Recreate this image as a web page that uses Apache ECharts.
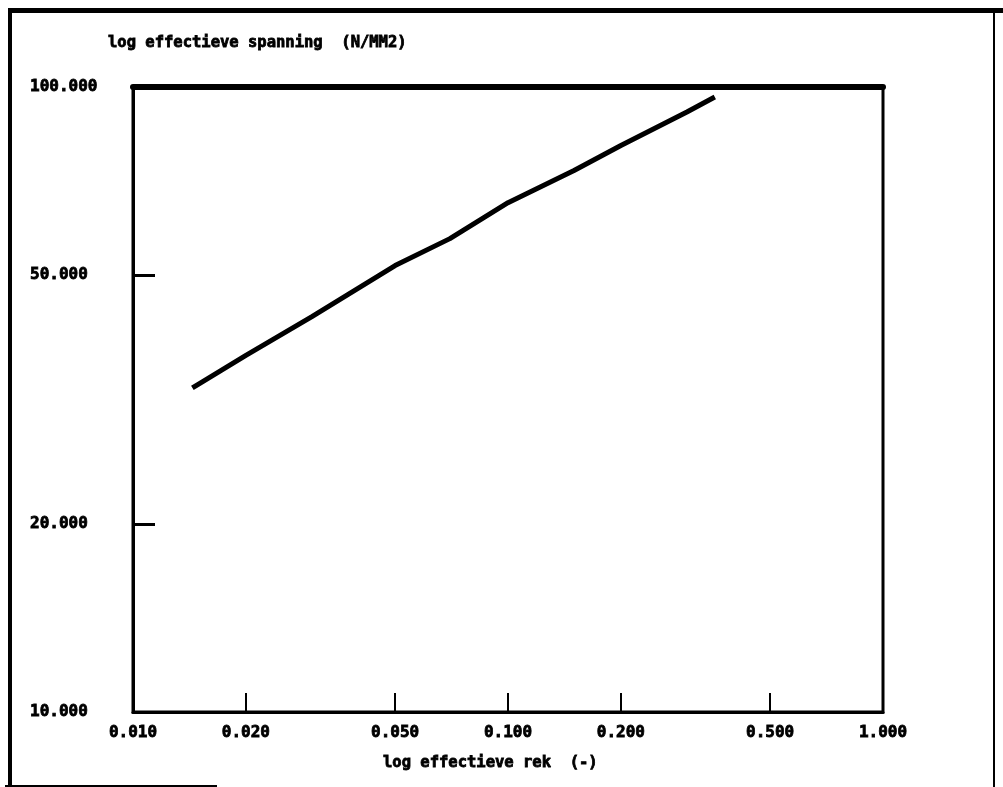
<!DOCTYPE html>
<html>
<head>
<meta charset="utf-8">
<script src="https://cdn.jsdelivr.net/npm/echarts@6/dist/echarts.min.js"></script>
<style>
  html, body { margin: 0; padding: 0; background: #fff; }
  #chart { width: 1003px; height: 787px; }
</style>
</head>
<body>
<div id="chart"></div>
<script>
// data
var rek = [0.0144, 0.015, 0.02, 0.03, 0.05, 0.07, 0.1, 0.15, 0.2, 0.3, 0.356];
var spanning = [33.0, 33.5, 37.2, 42.9, 51.8, 57.2, 65.3, 73.5, 80.6, 91.2, 96.4];

// axis labels and ticks
var xLabels = [0.01, 0.02, 0.05, 0.1, 0.2, 0.5, 1];
var xTicks = [0.02, 0.05, 0.1, 0.2, 0.5];
var yLabels = [10, 20, 50, 100];
var yTicks = [20, 50];

var fontName = '"DejaVu Sans Mono", monospace';

var chart = echarts.init(document.getElementById('chart'));

function fmt(v) {
  return Math.pow(10, v).toFixed(3);
}

// heavy "bitmap" look for all text
var heavy = {
  fontFamily: fontName, fontWeight: 'bold', color: '#000',
  textBorderColor: '#000', textBorderWidth: 0.8
};

var option = {
  backgroundColor: '#fff',
  animation: false,
  title: [
    {
      text: 'log effectieve spanning  (N/MM2)',
      left: 108, top: 35, padding: 0,
      textStyle: Object.assign({ fontSize: 15.5 }, heavy)
    },
    {
      text: 'log effectieve rek  (-)',
      left: 383, top: 755, padding: 0,
      textStyle: Object.assign({ fontSize: 15.5 }, heavy)
    }
  ],
  grid: {
    left: 133, right: 120, top: 87, bottom: 75,
    show: true, borderColor: '#000', borderWidth: 3
  },
  xAxis: [
    {
      // log axis for the data, drawn as the thick top edge
      type: 'log', logBase: 10, min: 0.01, max: 1, position: 'top',
      axisLine: { show: true, lineStyle: { color: '#000', width: 6 } },
      axisTick: { show: false }, axisLabel: { show: false }, splitLine: { show: false }
    },
    {
      type: 'value', min: -2, max: 0, position: 'bottom',
      axisLine: { show: true, lineStyle: { color: '#000', width: 3 } },
      axisTick: {
        show: true, inside: true, length: 19,
        lineStyle: { color: '#000', width: 2 },
        customValues: xTicks.map(Math.log10)
      },
      axisLabel: Object.assign({
        customValues: xLabels.map(Math.log10),
        formatter: fmt, margin: 13, fontSize: 16
      }, heavy),
      splitLine: { show: false }
    }
  ],
  yAxis: [
    {
      type: 'log', logBase: 10, min: 10, max: 100, position: 'right',
      axisLine: { show: true, lineStyle: { color: '#000', width: 2 } },
      axisTick: { show: false }, axisLabel: { show: false }, splitLine: { show: false }
    },
    {
      type: 'value', min: 1, max: 2, position: 'left',
      axisLine: { show: true, lineStyle: { color: '#000', width: 3 } },
      axisTick: {
        show: true, inside: true, length: 22,
        lineStyle: { color: '#000', width: 3 },
        customValues: yTicks.map(Math.log10)
      },
      axisLabel: Object.assign({
        customValues: yLabels.map(Math.log10),
        formatter: fmt, margin: 103, align: 'left', fontSize: 16
      }, heavy),
      splitLine: { show: false }
    }
  ],
  series: [{
    type: 'line',
    xAxisIndex: 0, yAxisIndex: 0,
    data: rek.map(function (x, i) { return [x, spanning[i]]; }),
    showSymbol: false,
    lineStyle: { color: '#000', width: 5 }
  }],
  graphic: [
    // scanned page frame
    { type: 'rect', shape: { x: 8, y: 8, width: 995, height: 5 }, style: { fill: '#000' } },
    { type: 'rect', shape: { x: 8, y: 8, width: 4, height: 779 }, style: { fill: '#000' } },
    { type: 'rect', shape: { x: 993, y: 8, width: 2, height: 779 }, style: { fill: '#000' } },
    { type: 'rect', shape: { x: 5, y: 785, width: 212, height: 2 }, style: { fill: '#000' } }
  ]
};

chart.setOption(option);
</script>
</body>
</html>
